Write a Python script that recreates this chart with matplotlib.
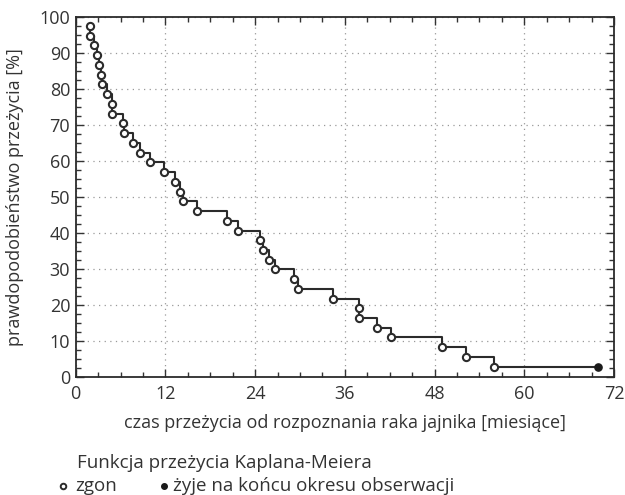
import matplotlib
matplotlib.use("Agg")
import matplotlib.pyplot as plt
from matplotlib.ticker import MultipleLocator

# Kaplan-Meier survival: event times [months] and survival [%] after each death
death_months = [1.9, 1.9, 2.45, 2.8, 3.1, 3.35, 3.5, 4.2, 4.8, 4.85, 6.35, 6.45,
                7.6, 8.6, 9.95, 11.85, 13.35, 13.95, 14.3, 16.25, 20.3, 21.75,
                24.7, 25.1, 25.9, 26.7, 29.2, 29.8, 34.35, 37.85, 37.95, 40.3,
                42.15, 49.05, 52.25, 56.0]
survival_pct = [97.4, 94.7, 92.0, 89.3, 86.6, 83.9, 81.2, 78.5, 75.8, 73.1, 70.4,
                67.6, 64.9, 62.2, 59.5, 56.8, 54.1, 51.4, 48.7, 46.0, 43.2, 40.6,
                37.9, 35.2, 32.5, 29.8, 27.1, 24.4, 21.7, 19.0, 16.3, 13.6, 10.9,
                8.2, 5.5, 2.8]
censored_month = [69.9]
censored_pct = [2.8]

x_ticks = [0, 12, 24, 36, 48, 60, 72]
y_ticks = [0, 10, 20, 30, 40, 50, 60, 70, 80, 90, 100]

INK = "#333333"
plt.rcParams["font.family"] = ["Open Sans", "DejaVu Sans"]
plt.rcParams["text.color"] = INK
plt.rcParams["axes.labelcolor"] = INK
plt.rcParams["xtick.color"] = INK
plt.rcParams["ytick.color"] = INK

fig = plt.figure(figsize=(6.25, 4.95), dpi=100)
ax = fig.add_axes([0.1211, 0.239, 0.8613, 0.7273])

steps_x = death_months + censored_month
steps_y = survival_pct + censored_pct
ax.step(steps_x, steps_y, where="post", color="#2b2b2b", linewidth=1.5, zorder=3)
ax.plot(death_months, survival_pct, "o", markersize=5.2, markerfacecolor="white",
        markeredgecolor="#2b2b2b", markeredgewidth=1.5, zorder=4)
ax.plot(censored_month, censored_pct, "o", markersize=5.2, color="#1a1a1a", zorder=4)

ax.set_xlim(0, 72)
ax.set_ylim(0, 100)
ax.set_xticks(x_ticks)
ax.set_yticks(y_ticks)
ax.xaxis.set_minor_locator(MultipleLocator(3))
ax.yaxis.set_minor_locator(MultipleLocator(2.5))
ax.tick_params(which="both", direction="in", top=True, right=True, labelsize=13,
               width=1.0)
ax.tick_params(which="major", length=6)
ax.tick_params(which="minor", length=3.5)
ax.tick_params(axis="x", pad=6)
ax.tick_params(axis="y", pad=4)
ax.grid(True, which="major", linestyle=(0, (1, 3.5)), color="#999999", linewidth=0.9)
for s in ax.spines.values():
    s.set_color("#2b2b2b")
    s.set_linewidth(1.3)

ax.set_xlabel("czas przeżycia od rozpoznania raka jajnika [miesiące]", fontsize=13,
              labelpad=8)
ax.set_ylabel("prawdopodobieństwo przeżycia [%]", fontsize=13, labelpad=11)

fig.text(0.123, 0.065, "Funkcja przeżycia Kaplana-Meiera", fontsize=13.5, va="center")
fig.lines.append(plt.Line2D([0.1], [0.018], marker="o", markersize=4, markerfacecolor="white",
                            markeredgecolor="#2b2b2b", markeredgewidth=1.4,
                            transform=fig.transFigure))
fig.text(0.121, 0.018, "zgon", fontsize=13.5, va="center")
fig.lines.append(plt.Line2D([0.262], [0.018], marker="o", markersize=4, color="#1a1a1a",
                            transform=fig.transFigure))
fig.text(0.276, 0.018, "żyje na końcu okresu obserwacji", fontsize=13.5, va="center")

fig.savefig("out.png", dpi=100)
